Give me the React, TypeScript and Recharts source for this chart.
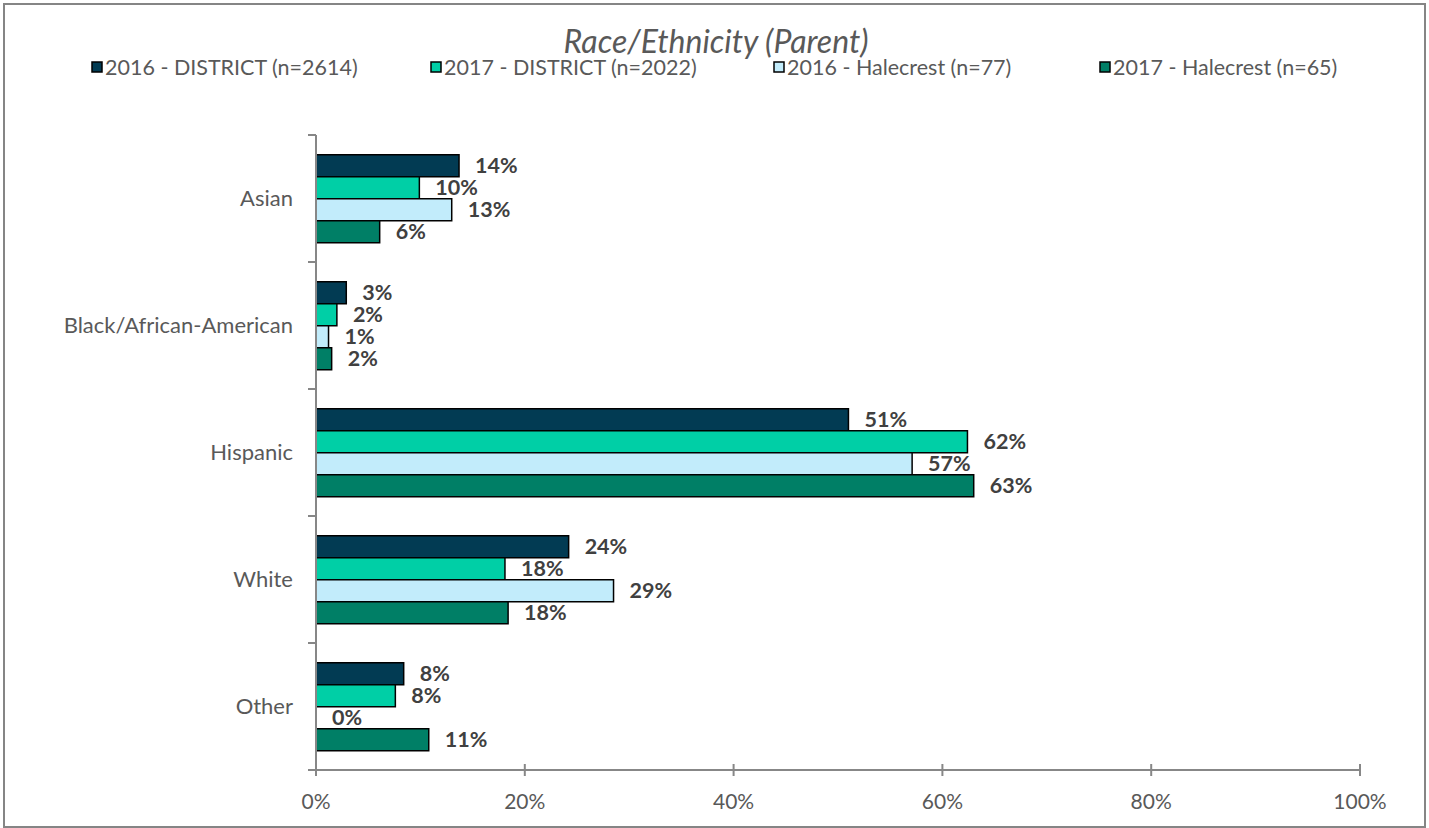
import { BarChart, Bar, XAxis, YAxis, LabelList, Cell } from "recharts";

// Race/Ethnicity (Parent) — share of respondents, %
const categories = ["Asian", "Black/African-American", "Hispanic", "White", "Other"];
const district2016 = [13.7, 2.9, 51.0, 24.2, 8.4];
const district2017 = [9.9, 2.0, 62.4, 18.1, 7.6];
const halecrest2016 = [13.0, 1.2, 57.1, 28.5, 0];
const halecrest2017 = [6.1, 1.5, 63.0, 18.4, 10.8];
const xTicks = [0, 20, 40, 60, 80, 100];

const series = [
    { key: "d2016", name: "2016 - DISTRICT (n=2614)", values: district2016, color: "#023b53" },
    { key: "d2017", name: "2017 - DISTRICT (n=2022)", values: district2017, color: "#00cfa6" },
    { key: "h2016", name: "2016 - Halecrest (n=77)", values: halecrest2016, color: "#c2ecfb" },
    { key: "h2017", name: "2017 - Halecrest (n=65)", values: halecrest2017, color: "#007f66" },
];

const data = categories.map((category, i) => {
    const row: Record<string, string | number> = { category };
    series.forEach(s => (row[s.key] = s.values[i]));
    return row;
});

const W = 1429;
const H = 828;
const PLOT_TOP = 135;
const PLOT_BOTTOM = 770;
const PLOT_LEFT = 316;
const PLOT_RIGHT = 1360;
const BAND = (PLOT_BOTTOM - PLOT_TOP) / categories.length;
const FONT = "Lato, 'Open Sans', sans-serif";
const AXIS_GREY = "#878787";
const TEXT_GREY = "#595959";

// legend item left positions (px)
const legendX = [92, 431, 774, 1100];

function YTick(props: any) {
    const { x, y, payload, index } = props;
    const axisX = x + 23;
    return (
        <g>
            <line x1={axisX - 8} x2={axisX} y1={y - BAND / 2} y2={y - BAND / 2} stroke={AXIS_GREY} strokeWidth={2} />
            {index === categories.length - 1 && (
                <line x1={axisX - 8} x2={axisX} y1={y + BAND / 2} y2={y + BAND / 2} stroke={AXIS_GREY} strokeWidth={2} />
            )}
            <text x={x} y={y} dy="0.36em" textAnchor="end" fill={TEXT_GREY} fontSize={22} fontFamily={FONT}>
                {payload.value}
            </text>
        </g>
    );
}

function XTick(props: any) {
    const { x, y, payload } = props;
    const axisY = y - 24;
    return (
        <g>
            <line x1={x} x2={x} y1={axisY - 6} y2={axisY + 6} stroke={AXIS_GREY} strokeWidth={2} />
            <text x={x} y={y} dy="0.71em" textAnchor="middle" fill={TEXT_GREY} fontSize={21} fontFamily={FONT}>
                {`${payload.value}%`}
            </text>
        </g>
    );
}

export default function App() {
    return (
        <div style={{ position: "absolute", left: 0, top: 0, width: W, height: H, background: "#fff", fontFamily: FONT }}>
            <div style={{ position: "absolute", left: 3, top: 3, width: W - 6, height: H - 3, border: "2px solid #858585", boxSizing: "border-box" }} />
            <svg width={W} height={100} style={{ position: "absolute", left: 0, top: 0 }}>
                <text x={716} y={53} textAnchor="middle" fontSize={32} fontStyle="italic" fill={TEXT_GREY} fontFamily={FONT}>
                    Race/Ethnicity (Parent)
                </text>
                {series.map((s, i) => (
                    <g key={s.key}>
                        <rect x={legendX[i]} y={62} width={10} height={10} fill={s.color} stroke="#000" strokeWidth={1.5} />
                        <text x={legendX[i] + 13} y={75} fontSize={21.5} fill={TEXT_GREY} fontFamily={FONT}>
                            {s.name}
                        </text>
                    </g>
                ))}
            </svg>
            <div style={{ position: "absolute", left: 0, top: 0 }}>
                <BarChart
                    width={W}
                    height={H}
                    data={data}
                    layout="vertical"
                    margin={{ top: PLOT_TOP, bottom: 0, left: PLOT_LEFT - 300, right: W - PLOT_RIGHT }}
                    barCategoryGap="15.5%"
                    barGap={0}
                >
                    <XAxis
                        type="number"
                        domain={[0, 100]}
                        ticks={xTicks}
                        height={H - PLOT_BOTTOM}
                        interval={0}
                        tickSize={0}
                        tickMargin={24}
                        tickLine={false}
                        tick={<XTick />}
                        axisLine={{ stroke: AXIS_GREY, strokeWidth: 2 }}
                    />
                    <YAxis
                        type="category"
                        dataKey="category"
                        width={300}
                        interval={0}
                        tickSize={0}
                        tickMargin={23}
                        tickLine={false}
                        tick={<YTick />}
                        axisLine={{ stroke: AXIS_GREY, strokeWidth: 2 }}
                    />
                    {series.map(s => (
                        <Bar
                            key={s.key}
                            dataKey={s.key}
                            name={s.name}
                            fill={s.color}
                            stroke="#000"
                            strokeWidth={1.5}
                            minPointSize={(v: any) => (Number(v) === 0 ? 0.01 : 0)}
                            isAnimationActive={false}
                        >
                            {s.values.map((v, i) => (
                                <Cell key={i} strokeWidth={v === 0 ? 0 : 1.5} />
                            ))}
                            <LabelList
                                dataKey={s.key}
                                position="right"
                                offset={16}
                                formatter={(v: any) => `${Math.round(Number(v))}%`}
                                style={{ fontSize: 21.5, fontWeight: 700, fill: "#404040", fontFamily: FONT }}
                            />
                        </Bar>
                    ))}
                </BarChart>
            </div>
        </div>
    );
}
